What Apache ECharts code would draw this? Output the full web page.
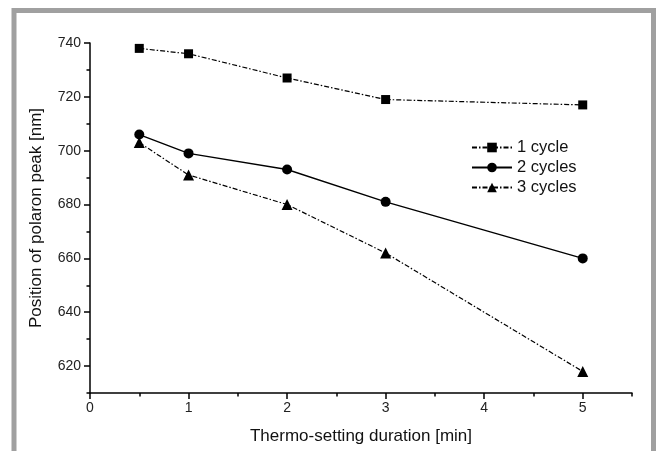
<!DOCTYPE html>
<html>
<head>
<meta charset="utf-8">
<script src="https://cdn.jsdelivr.net/npm/echarts@6/dist/echarts.min.js"></script>
<style>
  html, body { margin: 0; padding: 0; background: #fff; }
  #chart { width: 658px; height: 451px; }
</style>
</head>
<body>
<div id="chart"></div>
<script>
// polaron peak position vs thermo-setting duration
const durations = [0.5, 1, 2, 3, 5]
const cycle1 = [738, 736, 727, 719, 717]
const cycle2 = [706, 699, 693, 681, 660]
const cycle3 = [703, 691, 680, 662, 618]
const xTicks = [0, 1, 2, 3, 4, 5]
const yTicks = [620, 640, 660, 680, 700, 720, 740]

const font = '"Liberation Sans", Arial, sans-serif'

function pairs(ys) {
  return durations.map((x, i) => [x, ys[i]])
}

const chart = echarts.init(document.getElementById('chart'), null, { renderer: 'canvas' })

chart.setOption({
  animation: false,
  backgroundColor: '#fff',
  graphic: [{
    // grey frame round the figure
    type: 'rect',
    silent: true,
    shape: { x: 14, y: 10.5, width: 639.5, height: 500 },
    style: { fill: 'none', stroke: '#a0a0a0', lineWidth: 5 }
  }],
  grid: { left: 90, right: 26, top: 43, bottom: 58 },
  legend: {
    orient: 'vertical',
    left: 466,
    top: 134,
    itemWidth: 40,
    itemHeight: 12,
    itemGap: 3,
    textStyle: { fontFamily: font, fontSize: 16.5, color: '#111' },
    data: ['1 cycle', '2 cycles', '3 cycles']
  },
  xAxis: [{
    type: 'value',
    min: 0,
    max: 5.5,
    interval: 1,
    name: 'Thermo-setting duration [min]',
    nameLocation: 'middle',
    nameGap: 35,
    nameTextStyle: { fontFamily: font, fontSize: 17, color: '#111' },
    axisLine: { show: true, onZero: false, lineStyle: { color: '#000', width: 1.5 } },
    axisTick: { show: true, length: 6, customValues: xTicks, lineStyle: { color: '#000', width: 1.5 } },
    axisLabel: { customValues: xTicks, margin: 8, fontFamily: font, fontSize: 14, color: '#222' },
    splitLine: { show: false }
  }, {
    // minor ticks every 0.5
    type: 'value',
    position: 'bottom',
    min: 0,
    max: 5.5,
    interval: 0.5,
    axisLine: { show: false },
    axisTick: { show: true, length: 3.5, lineStyle: { color: '#000', width: 1.5 } },
    axisLabel: { show: false },
    splitLine: { show: false }
  }],
  yAxis: [{
    type: 'value',
    min: 610,
    max: 740,
    name: 'Position of polaron peak [nm]',
    nameLocation: 'middle',
    nameGap: 45,
    nameTextStyle: { fontFamily: font, fontSize: 17, color: '#111' },
    axisLine: { show: true, onZero: false, lineStyle: { color: '#000', width: 1.5 } },
    axisTick: { show: true, length: 6, customValues: yTicks, lineStyle: { color: '#000', width: 1.5 } },
    axisLabel: { customValues: yTicks, margin: 9, fontFamily: font, fontSize: 14, color: '#222' },
    splitLine: { show: false }
  }, {
    // minor ticks every 10
    type: 'value',
    position: 'left',
    min: 610,
    max: 740,
    interval: 10,
    axisLine: { show: false },
    axisTick: { show: true, length: 3.5, lineStyle: { color: '#000', width: 1.5 } },
    axisLabel: { show: false },
    splitLine: { show: false }
  }],
  series: [{
    name: '1 cycle',
    type: 'line',
    data: pairs(cycle1),
    symbol: 'rect',
    symbolSize: 9,
    itemStyle: { color: '#000' },
    lineStyle: { color: '#000', width: 1.2, type: [5, 2, 1.5, 2] }
  }, {
    name: '2 cycles',
    type: 'line',
    data: pairs(cycle2),
    symbol: 'circle',
    symbolSize: 10,
    itemStyle: { color: '#000' },
    lineStyle: { color: '#000', width: 1.4, type: 'solid' }
  }, {
    name: '3 cycles',
    type: 'line',
    data: pairs(cycle3),
    symbol: 'triangle',
    symbolSize: 11,
    itemStyle: { color: '#000' },
    lineStyle: { color: '#000', width: 1.2, type: [5, 2, 1.5, 2] }
  }]
})
</script>
</body>
</html>
